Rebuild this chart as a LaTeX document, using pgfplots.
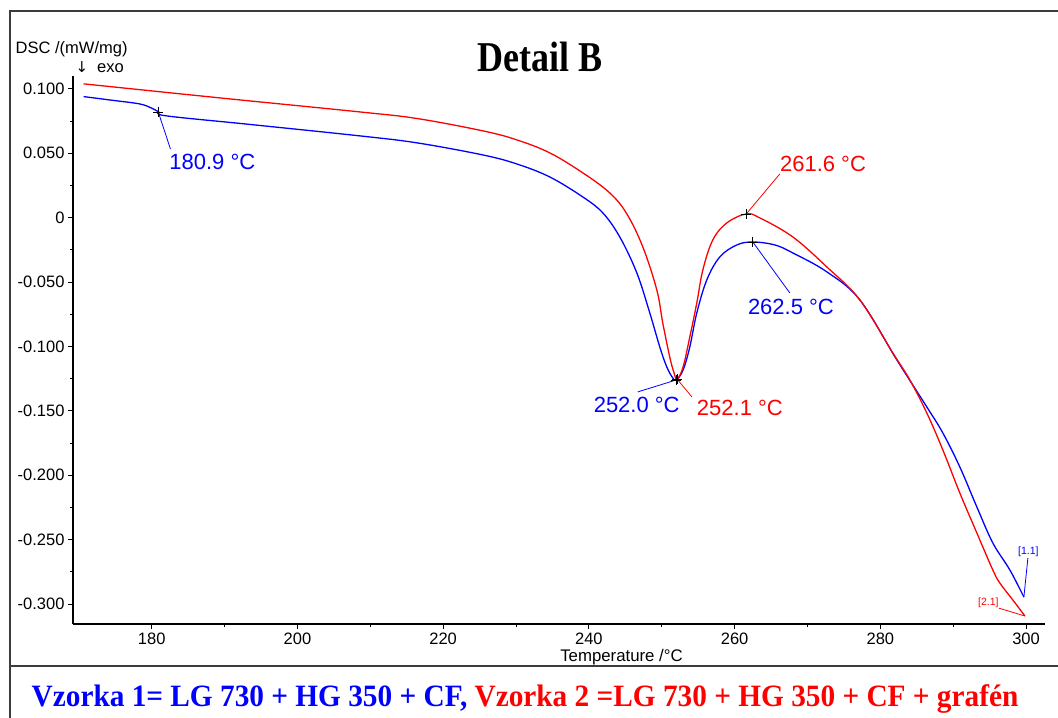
\documentclass[border=0pt]{standalone}
\usepackage{fontspec}
\setmainfont{Liberation Sans}
\newfontfamily\timesfont{Liberation Serif}
\newfontfamily\symbfont{DejaVu Sans}
\usepackage{graphicx}
\usepackage{pgfplots}
\pgfplotsset{compat=1.18}

\definecolor{dscblue}{RGB}{0,0,255}
\definecolor{dscred}{RGB}{255,0,0}
\definecolor{framegray}{RGB}{60,60,60}

\tikzset{
  peak/.style={inner sep=0, font=\fontsize{22bp}{26bp}\selectfont},
  run/.style={inner sep=0, font=\fontsize{10.5bp}{12bp}\selectfont},
}

% DSC trace, Vzorka 1 (blue)
\pgfplotstableread{
T y
170.65 0.0940
174.5 0.0912
178.35 0.0883
180.0 0.0850
180.96 0.0821
182.06 0.0790
193.45 0.0724
208.55 0.0635
216.38 0.0581
225.44 0.0487
230.10 0.0417
234.63 0.0316
239.16 0.0161
241.91 0.0037
244.24 -0.0150
246.58 -0.0429
248.36 -0.0740
249.73 -0.1004
250.69 -0.1159
251.52 -0.1245
252.00 -0.1260
252.93 -0.1183
253.85 -0.1004
254.81 -0.0740
256.18 -0.0484
257.97 -0.0305
260.30 -0.0212
262.50 -0.0189
265.52 -0.0212
267.99 -0.0274
272.66 -0.0421
277.19 -0.0639
282.27 -0.1105
286.38 -0.1470
288.58 -0.1672
290.91 -0.1936
293.25 -0.2247
295.44 -0.2526
297.78 -0.2736
299.70 -0.2946
}\vzorkaA

% DSC trace, Vzorka 2 (red)
\pgfplotstableread{
T y
170.65 0.1039
189.33 0.0930
208.55 0.0821
216.38 0.0770
225.44 0.0674
230.10 0.0604
234.63 0.0503
239.16 0.0348
242.87 0.0192
245.20 0.0030
247.40 -0.0227
249.32 -0.0561
250.14 -0.0818
251.10 -0.1082
251.65 -0.1198
252.10 -0.1253
252.93 -0.1159
253.85 -0.0926
254.81 -0.0662
255.64 -0.0406
257.01 -0.0173
258.93 -0.0041
261.60 0.0029
263.46 -0.0002
267.99 -0.0150
272.66 -0.0383
277.19 -0.0639
281.72 -0.1051
284.05 -0.1260
286.38 -0.1517
288.58 -0.1804
290.91 -0.2138
293.25 -0.2449
295.44 -0.2736
296.40 -0.2837
298.19 -0.2969
299.84 -0.3093
}\vzorkaB

\begin{document}
\begin{tikzpicture}[x=1bp,y=1bp]
\path[use as bounding box] (0,0) rectangle (1058,718);
% page frame and legend box
\draw[framegray, line width=1.6bp] (1058,707) -- (10,707) -- (10,0);
\draw[framegray, line width=1.6bp] (10,52) -- (1058,52);

\begin{axis}[
  at={(73bp,94bp)}, anchor=south west,
  scale only axis, width=972bp, height=548bp,
  xmin=169.2, xmax=302.6, ymin=-0.3155, ymax=0.110,
  axis x line=bottom, axis y line=left,
  axis line style={-, line width=1.1bp, black},
  tick align=outside,
  major tick length=5bp, minor tick length=3bp,
  every tick/.style={black, line width=0.8bp},
  xtick={180,200,...,300},
  minor x tick num=1,
  ytick={-0.3,-0.25,-0.2,-0.15,-0.1,-0.05,0,0.05,0.1},
  yticklabels={-0.300,-0.250,-0.200,-0.150,-0.100,-0.050,0,0.050,0.100},
  minor y tick num=1,
  /pgf/number format/assume math mode=true,
  tick label style={font=\fontsize{16.5bp}{19bp}\selectfont},
  clip=false,
]
\addplot[dscblue, line width=1.3bp, smooth, tension=0.6] table[x=T, y=y] {\vzorkaA};
\addplot[dscred, line width=1.3bp, smooth, tension=0.6] table[x=T, y=y] {\vzorkaB};

% evaluated points
\addplot[only marks, mark=+, mark size=5bp, black, mark options={line width=0.7bp}] coordinates {
 (180.9,0.0821) (252.0,-0.1260) (262.5,-0.0189) (252.1,-0.1253) (261.6,0.0029)};

% leader lines
\draw[dscblue, line width=0.8bp] (axis cs:180.9,0.0821) -- (axis cs:182.57,0.0534);
\draw[dscblue, line width=0.8bp] (axis cs:262.5,-0.0189) -- (axis cs:267.58,-0.0585);
\draw[dscblue, line width=0.8bp] (axis cs:252.0,-0.1260) -- (axis cs:246.71,-0.1353);
\draw[dscred, line width=0.8bp] (axis cs:261.6,0.0029) -- (axis cs:266.21,0.0340);
\draw[dscred, line width=0.8bp] (axis cs:252.1,-0.1253) -- (axis cs:254.14,-0.1392);
\draw[dscblue, line width=0.8bp] (axis cs:299.70,-0.2946) -- (axis cs:300.25,-0.2643);
\draw[dscred, line width=0.8bp] (axis cs:299.84,-0.3093) -- (axis cs:296.27,-0.3032);

% peak labels
\node[peak, dscblue, anchor=west] at (axis cs:182.4,0.0433) {180.9 °C};
\node[peak, dscred, anchor=west] at (axis cs:266.21,0.0421) {261.6 °C};
\node[peak, dscblue, anchor=west] at (axis cs:261.81,-0.0693) {262.5 °C};
\node[peak, dscblue, anchor=east] at (axis cs:252.48,-0.1454) {252.0 °C};
\node[peak, dscred, anchor=west] at (axis cs:254.81,-0.1478) {252.1 °C};
\node[run, dscblue] at (axis cs:300.32,-0.2596) {[1.1]};
\node[run, dscred] at (axis cs:294.82,-0.2988) {[2.1]};
\end{axis}

% axis titles
\node[anchor=base west, inner sep=0, font=\fontsize{16.5bp}{19bp}\selectfont] at (15.5,664) {DSC /(mW/mg)};
\node[inner sep=0, font=\symbfont\fontsize{15bp}{17bp}\selectfont] at (82,650.5) {↓};
\node[anchor=base west, inner sep=0, font=\fontsize{16.5bp}{19bp}\selectfont] at (97,645.5) {exo};
\node[anchor=base, inner sep=0, font=\fontsize{16.8bp}{19bp}\selectfont] at (621.5,56.3) {Temperature /°C};

% title
\node[anchor=base, inner sep=0] at (540,646) {\timesfont\bfseries\fontsize{36bp}{40bp}\selectfont\scalebox{1}[1.18]{Detail B}};

% sample legend
\node[anchor=base, inner sep=0] at (525,11.3) {\timesfont\bfseries\fontsize{29.3bp}{32bp}\selectfont\scalebox{1}[1.06]{\textcolor{dscblue}{Vzorka 1= LG 730 + HG 350 + CF,} \textcolor{dscred}{Vzorka 2 =LG 730 + HG 350 + CF + grafén}}};
\end{tikzpicture}
\end{document}
